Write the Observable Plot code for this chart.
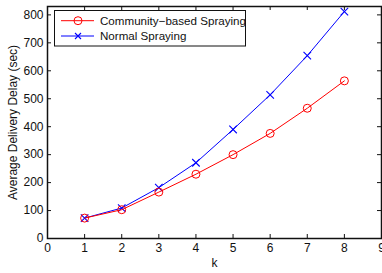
<!DOCTYPE html>
<html><head><meta charset="utf-8">
<script src="https://cdn.jsdelivr.net/npm/d3@7"></script>
<script src="https://cdn.jsdelivr.net/npm/@observablehq/plot@0.6"></script>
<style>body{margin:0;background:#fff}</style>
</head><body><div id="chart"></div>
<script>
const kValues = [1, 2, 3, 4, 5, 6, 7, 8];
const communityDelay = [73, 103, 166, 230, 300, 376, 466, 564];
const normalDelay = [73, 109, 182, 271, 390, 514, 654, 812];
const xTicks = [0, 1, 2, 3, 4, 5, 6, 7, 8, 9];
const yTicks = [0, 100, 200, 300, 400, 500, 600, 700, 800];
const seriesNames = ["Community\u2212based Spraying", "Normal Spraying"];
const xLabel = "k";
const yLabel = "Average Delivery Delay (sec)";

const W = 382, H = 273, mt = 6, mb = 35, ml = 47, mr = 1;
const pw = W - ml - mr, ph = H - mt - mb;
const community = kValues.map((k, i) => ({k, delay: communityDelay[i]}));
const normal = kValues.map((k, i) => ({k, delay: normalDelay[i]}));
const font = "'Liberation Sans', Arial, Helvetica, sans-serif";

const plot = Plot.plot({
  width: W, height: H, marginTop: mt, marginBottom: mb, marginLeft: ml, marginRight: mr,
  style: {fontFamily: font, fontSize: "12px", color: "#111", background: "white", overflow: "visible"},
  x: {domain: [0, 9], label: null},
  y: {domain: [0, 830], label: null},
  marks: [
    Plot.axisX(xTicks, {tickSize: 0, tickPadding: 5, fontSize: 12}),
    Plot.axisY(yTicks, {tickSize: 0, tickPadding: 4, fontSize: 12}),
    Plot.tickX(xTicks, {x: d => d, insetTop: ph - 4, stroke: "#111"}),
    Plot.tickX(xTicks, {x: d => d, insetBottom: ph - 4, stroke: "#111"}),
    Plot.tickY(yTicks, {y: d => d, insetRight: pw - 4, stroke: "#111"}),
    Plot.tickY(yTicks, {y: d => d, insetLeft: pw - 4, stroke: "#111"}),
    Plot.line(normal, {x: "k", y: "delay", stroke: "blue", strokeWidth: 1}),
    Plot.dot(normal, {x: "k", y: "delay", stroke: "blue", symbol: "times", r: 3.5, strokeWidth: 1.1}),
    Plot.line(community, {x: "k", y: "delay", stroke: "red", strokeWidth: 1}),
    Plot.dot(community, {x: "k", y: "delay", stroke: "red", symbol: "circle", r: 4, strokeWidth: 1}),
    Plot.frame({stroke: "#111", strokeWidth: 1.5}),
    Plot.text([xLabel], {frameAnchor: "bottom", dy: 28, fontSize: 12, fill: "#111"}),
    Plot.text([yLabel], {frameAnchor: "left", textAnchor: "middle", rotate: -90, dx: -34, fontSize: 12, fill: "#111"})
  ]
});
document.getElementById("chart").appendChild(plot);

// legend
const svg = d3.select(plot);
const lg = svg.append("g").attr("font-family", font).attr("font-size", 11.6).attr("text-anchor", "start");
lg.append("rect").attr("x", 54.5).attr("y", 10.5).attr("width", 191).attr("height", 35.5)
  .attr("fill", "white").attr("stroke", "#111").attr("stroke-width", 1);
const colors = ["red", "blue"];
const rows = [20.7, 36];
seriesNames.forEach((name, i) => {
  const y = rows[i];
  lg.append("line").attr("x1", 61).attr("x2", 94).attr("y1", y).attr("y2", y).attr("stroke", colors[i]);
  if (i === 0) {
    lg.append("circle").attr("cx", 78).attr("cy", y).attr("r", 4).attr("fill", "none").attr("stroke", "red");
  } else {
    lg.append("path").attr("d", `M${78-3},${y-3}L${78+3},${y+3}M${78-3},${y+3}L${78+3},${y-3}`).attr("stroke", "blue").attr("stroke-width", 1.1);
  }
  lg.append("text").attr("x", 100).attr("y", y).attr("dy", "0.35em").attr("text-anchor", "start").attr("fill", "#111").text(name);
});
</script>
</body></html>
